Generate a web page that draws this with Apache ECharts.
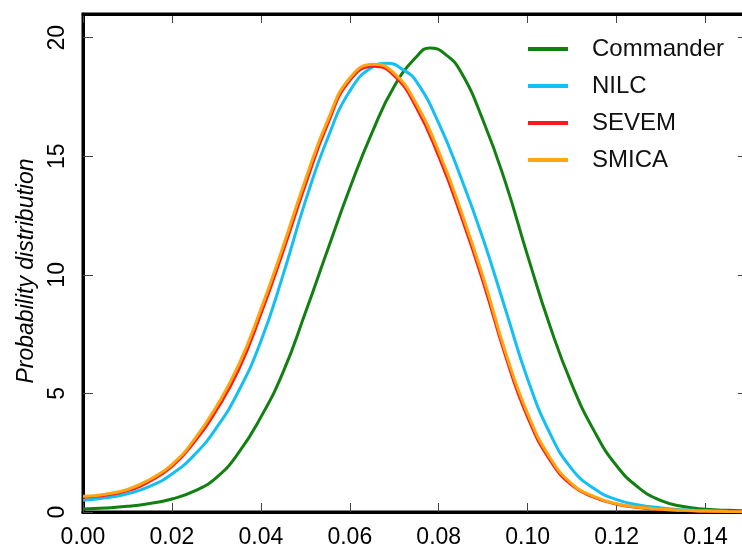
<!DOCTYPE html>
<html>
<head>
<meta charset="utf-8">
<script src="https://cdn.jsdelivr.net/npm/echarts@6/dist/echarts.min.js"></script>
<style>
  html, body { margin: 0; padding: 0; background: #fff; }
  #chart { width: 742px; height: 549px; }
</style>
</head>
<body>
<div id="chart"></div>
<script>
var commanderX = [0, 0.005, 0.01, 0.015, 0.02, 0.025, 0.03, 0.035, 0.04, 0.045,
  0.05, 0.055, 0.06, 0.065, 0.07, 0.075, 0.078, 0.0815, 0.085, 0.09, 0.095,
  0.10, 0.105, 0.11, 0.115, 0.12, 0.125, 0.13, 0.135, 0.14, 0.145, 0.15];
var commanderY = [0.13, 0.17, 0.24, 0.36, 0.55, 0.88, 1.45, 2.5, 4.0, 5.9,
  8.4, 11.05, 13.65, 16.0, 17.95, 19.2, 19.57, 19.3, 18.55, 16.5, 13.9,
  10.8, 7.85, 5.35, 3.4, 1.95, 1.02, 0.48, 0.23, 0.12, 0.07, 0.05];

var nilcX = [0, 0.005, 0.01, 0.015, 0.02, 0.025, 0.03, 0.035, 0.04, 0.045,
  0.05, 0.055, 0.06, 0.065, 0.0685, 0.072, 0.075, 0.08, 0.085, 0.09, 0.095,
  0.10, 0.105, 0.11, 0.115, 0.12, 0.125, 0.13, 0.135, 0.14, 0.145, 0.15];
var nilcY = [0.5, 0.6, 0.77, 1.08, 1.6, 2.4, 3.55, 5.1, 7.2, 10.0,
  13.1, 15.75, 17.75, 18.75, 18.92, 18.65, 18.15, 16.4, 14.1, 11.5, 8.55,
  5.6, 3.32, 1.8, 0.98, 0.52, 0.3, 0.17, 0.09, 0.05, 0.03, 0.02];

var sevemX = [0, 0.005, 0.01, 0.015, 0.02, 0.025, 0.03, 0.035, 0.04, 0.045,
  0.05, 0.055, 0.06, 0.0655, 0.07, 0.075, 0.08, 0.085, 0.09, 0.095,
  0.10, 0.105, 0.11, 0.115, 0.12, 0.125, 0.13, 0.135, 0.14, 0.145, 0.15];
var sevemY = [0.62, 0.71, 0.9, 1.3, 1.92, 2.95, 4.3, 6.0, 8.35, 11.0,
  13.8, 16.35, 18.2, 18.8, 18.4, 17.05, 15.0, 12.5, 9.7, 6.6,
  4.0, 2.2, 1.12, 0.62, 0.33, 0.19, 0.11, 0.06, 0.03, 0.02, 0.01];

var smicaX = [0, 0.005, 0.01, 0.015, 0.02, 0.025, 0.03, 0.035, 0.04, 0.045,
  0.05, 0.055, 0.06, 0.0655, 0.07, 0.075, 0.08, 0.085, 0.09, 0.095,
  0.10, 0.105, 0.11, 0.115, 0.12, 0.125, 0.13, 0.135, 0.14, 0.145, 0.15];
var smicaY = [0.66, 0.75, 0.95, 1.37, 2.0, 3.05, 4.45, 6.2, 8.55, 11.2,
  14.0, 16.5, 18.3, 18.88, 18.5, 17.2, 15.2, 12.7, 9.9, 6.75,
  4.15, 2.3, 1.18, 0.65, 0.35, 0.2, 0.12, 0.07, 0.04, 0.02, 0.01];

var names = ['Commander', 'NILC', 'SEVEM', 'SMICA'];
var colors = ['#118011', '#13bff5', '#ff1a1a', '#ffa510'];
var seriesX = [commanderX, nilcX, sevemX, smicaX];
var seriesY = [commanderY, nilcY, sevemY, smicaY];

var yTop = 21;  // upper end of the y axis (top frame of the plot)

var font = 'Liberation Sans, Arial, sans-serif';

function pairs(xs, ys) {
  return xs.map(function(x, i) { return [x, ys[i]]; });
}

function xLabel(v) {
  var k = v / 0.02;
  return Math.abs(k - Math.round(k)) < 1e-6 ? v.toFixed(2) : '';
}
function yLabel(v) {
  return v % 5 === 0 ? String(v) : '';
}

var chart = echarts.init(document.getElementById('chart'), null, { renderer: 'canvas' });

// the original figure is cut off at the right, so the plot runs past the page edge
function xAxisOpt(pos, labels) {
  return {
    type: 'value', position: pos, min: 0, max: 0.15, interval: 0.02,
    axisLine: { show: true, onZero: false, lineStyle: { color: '#000', width: 3 } },
    axisTick: { show: true, inside: true, length: 9, lineStyle: { color: '#444', width: 1 } },
    axisLabel: labels
      ? { show: true, formatter: xLabel, fontFamily: font, fontSize: 23, color: '#000', margin: 14 }
      : { show: false },
    splitLine: { show: false }
  };
}

chart.setOption({
  animation: false,
  grid: {
    left: 83, right: -8, top: 14, bottom: 37,
    outerBoundsMode: 'none',
    show: true, borderColor: '#000', borderWidth: 3
  },
  legend: {
    orient: 'vertical',
    left: 523, top: 32,
    itemWidth: 40, itemHeight: 4,
    itemGap: 13,
    icon: 'rect',
    data: names,
    textStyle: { fontFamily: font, fontSize: 24, color: '#111', padding: [0, 0, 0, 19] }
  },
  xAxis: [xAxisOpt('bottom', true), xAxisOpt('top', false)],
  yAxis: [
    {
      type: 'value', position: 'left', min: 0, max: yTop, interval: 5,
      axisLine: { show: true, onZero: false, lineStyle: { color: '#000', width: 3 } },
      axisTick: { show: true, inside: true, length: 10, lineStyle: { color: '#444', width: 1 } },
      axisLabel: { show: true, rotate: 90, formatter: yLabel, fontFamily: font, fontSize: 23, color: '#000', margin: 14 },
      splitLine: { show: false },
      name: 'Probability distribution',
      nameLocation: 'middle',
      nameGap: 44,
      nameTextStyle: { fontFamily: font, fontStyle: 'italic', fontSize: 23, color: '#000', padding: [0, 16, 0, 0] }
    },
    {
      type: 'value', position: 'right', min: 0, max: yTop, interval: 5,
      axisLine: { show: true, onZero: false, lineStyle: { color: '#000', width: 3 } },
      axisTick: { show: true, inside: true, length: 12, lineStyle: { color: '#444', width: 1 } },
      axisLabel: { show: false },
      splitLine: { show: false }
    }
  ],
  series: seriesY.map(function(ys, i) {
    // Commander sits on the mirrored (top/right) axes, same scale as bottom/left
    var mirror = i === 0 ? 1 : 0;
    var s = {
      name: names[i],
      type: 'line',
      xAxisIndex: mirror,
      yAxisIndex: mirror,
      data: pairs(seriesX[i], ys),
      smooth: 0.5,
      showSymbol: false,
      symbol: 'none',
      color: colors[i],
      lineStyle: { width: 3, color: colors[i] },
      itemStyle: { color: colors[i] }
    };
    if (i === 0) {
      // top frame of the plot, drawn at the upper end of the y scale
      s.clip = false;
      s.markLine = {
        silent: true,
        symbol: 'none',
        label: { show: false },
        lineStyle: { color: '#000', width: 3, type: 'solid' },
        emphasis: { disabled: true },
        data: [{ yAxis: yTop }]
      };
    }
    return s;
  })
});
</script>
</body>
</html>
